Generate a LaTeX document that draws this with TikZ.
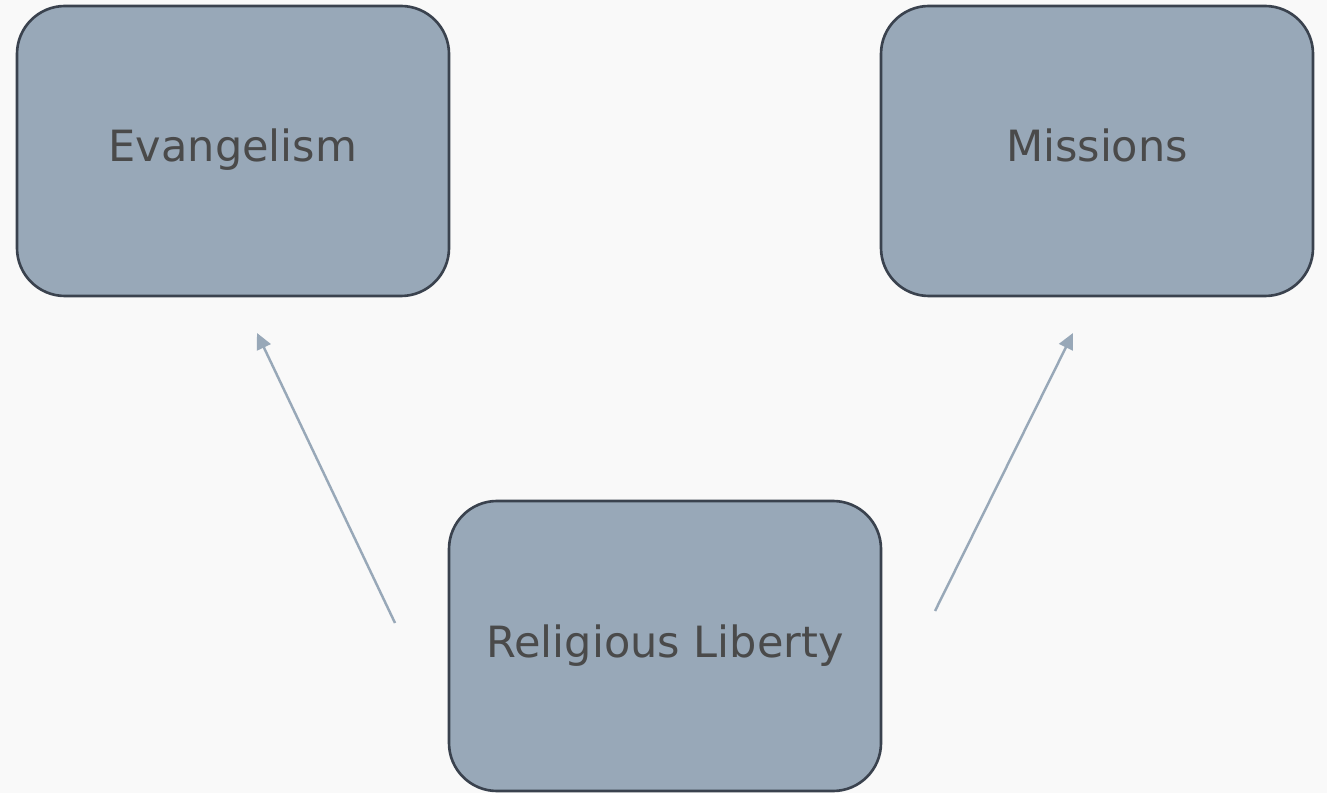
\documentclass[tikz,border=0pt]{standalone}
\usepackage{fontspec}
\setmainfont{DejaVu Sans}
\usetikzlibrary{arrows.meta}
\definecolor{boxfill}{HTML}{98A8B8}
\definecolor{boxline}{HTML}{3A424E}
\definecolor{txtgray}{HTML}{4A4A4A}
\definecolor{bggray}{HTML}{F9F9F9}

\begin{document}
\begin{tikzpicture}[
    topic/.style={draw=boxline,line width=1.5pt,fill=boxfill,rounded corners=0.96cm,
      minimum width=8.64cm,minimum height=5.8cm,text=txtgray,font=\fontsize{24.5}{28}\selectfont},
    link/.style={-{Triangle[length=0.32cm,width=0.3cm]},boxfill,line width=1.4pt}]
                  \fill[bggray] (0,0) rectangle (26.54,-15.86);
                  \useasboundingbox (0,0) rectangle (26.54,-15.86);

                  \node[topic] (evangelism) at (4.66,-3.02) {\raisebox{0.24cm}{Evangelism}};
                  \node[topic] (missions) at (21.94,-3.02) {\raisebox{0.24cm}{Missions}};
                  \node[topic] (liberty) at (13.30,-12.92) {\raisebox{0.04cm}{Religious Liberty}};

                  \coordinate (libL) at (7.90,-12.46);
                  \coordinate (evaTip) at (5.14,-6.66);
                  \coordinate (libR) at (18.70,-12.22);
                  \coordinate (misTip) at (21.46,-6.66);
                  \draw[link] (libL) -- (evaTip);
                  \draw[link] (libR) -- (misTip);
              \end{tikzpicture}
\end{document}
